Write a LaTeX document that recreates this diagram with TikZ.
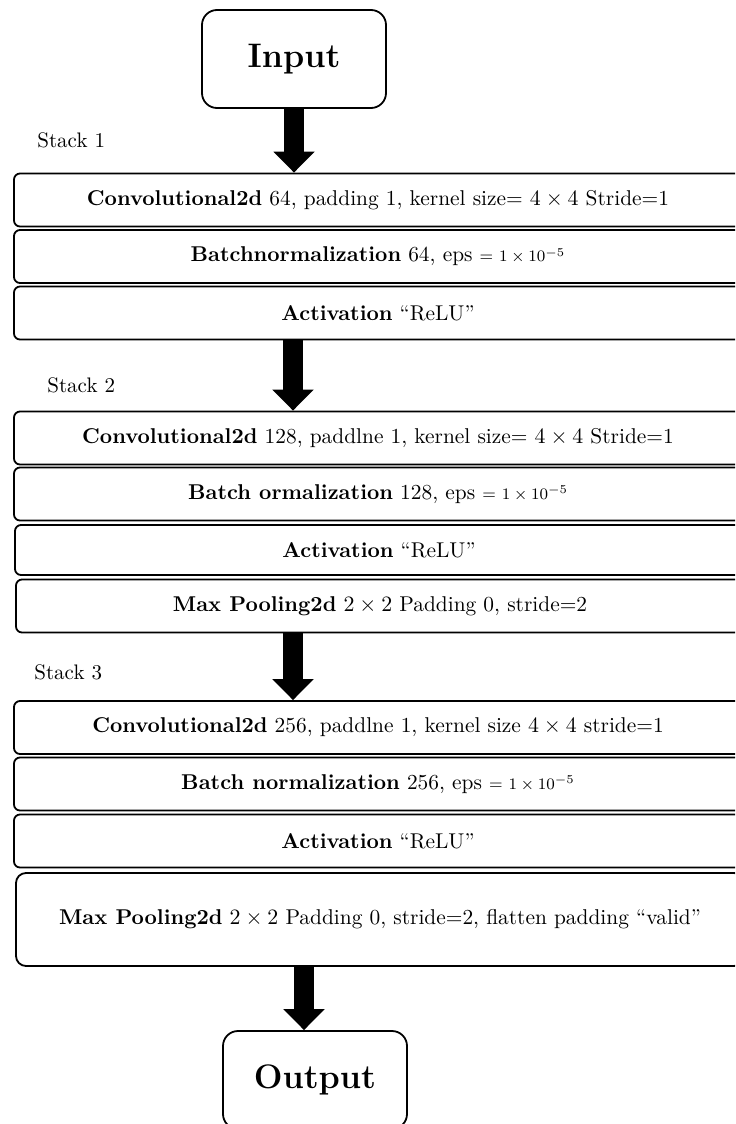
\documentclass[tikz,border=0pt]{standalone}
\usepackage{amsmath}
\usetikzlibrary{arrows.meta}
\newcommand{\epsval}{{\fontsize{8.5}{10}\selectfont = $1\times10^{-5}$}}

\begin{document}
\begin{tikzpicture}[x=0.5pt, y=-0.5pt,
  layer/.style={draw, line width=0.9pt, rounded corners=3pt, minimum width=364pt, minimum height=26.5pt, inner sep=0pt, font=\fontsize{10.7}{13}\selectfont},
  endbox/.style={draw, line width=0.9pt, rounded corners=7.5pt, minimum width=92pt, minimum height=49pt, font=\fontsize{17}{20}\selectfont\bfseries},
  flow/.style={line width=10pt, -{Triangle[width=20pt, length=10.5pt]}},
  stacklbl/.style={anchor=west, inner sep=0pt, font=\fontsize{10.5}{12}\selectfont}]
  \useasboundingbox (0,0) rectangle (735,1124);
  \clip (0,0) rectangle (735,1124);
  \coordinate (m2) at (293,0);
  \coordinate (m4) at (304,0);
  \node[endbox] (in) at (294,59) {Input};
  \node[stacklbl] (s1) at (37,140) {Stack 1};
  \node[layer] (c1) at (378,200) {\textbf{Convolutional2d} 64, padding 1, kernel size= $4\times4$ Stride=1};
  \node[layer] (b1) at (378,256.5) {\textbf{Batchnormalization} 64, eps \epsval};
  \node[layer] (a1) at (378,313) {\textbf{Activation} ``ReLU''};
  \node[stacklbl] (s2) at (47,385) {Stack 2};
  \node[layer] (c2) at (378,438) {\textbf{Convolutional2d} 128, paddlne 1, kernel size= $4\times4$ Stride=1};
  \node[layer] (b2) at (378,494) {\textbf{Batch ormalization} 128, eps \epsval};
  \node[layer, minimum height=25pt] (a2) at (379,550) {\textbf{Activation} ``ReLU''};
  \node[layer] (p2) at (380,606) {\textbf{Max Pooling2d} $2\times2$ Padding 0, stride=2};
  \node[stacklbl] (s3) at (34,672) {Stack 3};
  \node[layer] (c3) at (378,727.5) {\textbf{Convolutional2d} 256, paddlne 1, kernel size $4\times4$ stride=1};
  \node[layer] (b3) at (378,784) {\textbf{Batch normalization} 256, eps \epsval};
  \node[layer] (a3) at (378,841) {\textbf{Activation} ``ReLU''};
  \node[layer, minimum height=46.5pt, rounded corners=5pt] (p3) at (380,919.5) {\textbf{Max Pooling2d} $2\times2$ Padding 0, stride=2, flatten padding ``valid''};
  \node[endbox] (out) at (315,1080) {Output};
  \draw[flow] (in.south) -- (c1.north -| in.south);
  \draw[flow] (a1.south -| m2) -- (c2.north -| m2);
  \draw[flow] (p2.south -| m2) -- (c3.north -| m2);
  \draw[flow] (p3.south -| m4) -- (out.north -| m4);
\end{tikzpicture}
\end{document}
